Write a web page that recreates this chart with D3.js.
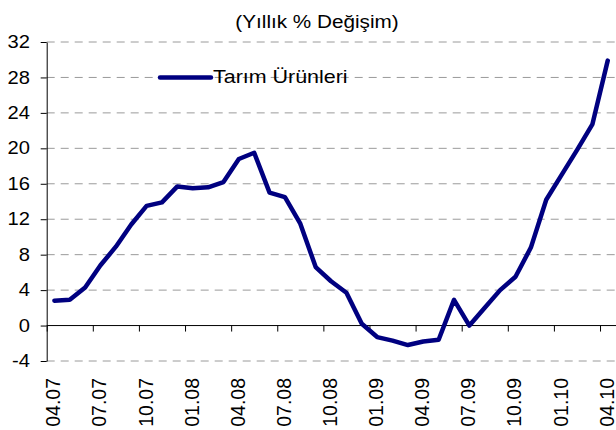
<!DOCTYPE html>
<html><head><meta charset="utf-8">
<script src="https://cdn.jsdelivr.net/npm/d3@7"></script>
<style>
body{margin:0;background:#fff;}
svg{display:block;font-family:"Liberation Sans",Arial,sans-serif;}
</style></head>
<body><svg id="c" width="616" height="430"></svg>
<script>
const months = ["04.07","05.07","06.07","07.07","08.07","09.07","10.07","11.07","12.07",
"01.08","02.08","03.08","04.08","05.08","06.08","07.08","08.08","09.08","10.08","11.08","12.08",
"01.09","02.09","03.09","04.09","05.09","06.09","07.09","08.09","09.09","10.09","11.09","12.09",
"01.10","02.10","03.10","04.10"];
const values = [2.8,2.9,4.3,6.8,8.9,11.4,13.5,13.9,15.7,
15.5,15.6,16.2,18.8,19.5,15.0,14.5,11.5,6.6,5.0,3.7,0.2,
-1.3,-1.7,-2.2,-1.8,-1.6,2.9,0.0,2.0,4.0,5.5,8.8,14.2,
17.0,19.8,22.7,29.9];
const yTicks = [-4,0,4,8,12,16,20,24,28,32];
const xLabels = ["04.07","07.07","10.07","01.08","04.08","07.08","10.08","01.09","04.09","07.09","10.09","01.10","04.10"];
const seriesName = "Tarım Ürünleri";
const title = "(Yıllık % Değişim)";

const svg = d3.select("#c");
const L = 46.7, R = 615.4, T = 42, B = 361;
const x = d3.scaleBand().domain(months).range([L, R]);
const xi = d3.scaleLinear().domain([0, months.length]).range([L, R]);
const y = d3.scaleLinear().domain([-4, 32]).range([B, T]);

// gridlines
svg.append("g").selectAll("line").data(yTicks.filter(t => t !== 0)).join("line")
  .attr("x1", L).attr("x2", 616).attr("y1", d => y(d)).attr("y2", d => y(d))
  .attr("stroke", "#9a9a9a").attr("stroke-width", 1).attr("stroke-dasharray", "8,6");

// y axis
const ya = svg.append("g").attr("transform", `translate(${L},0)`)
  .call(d3.axisLeft(y).tickValues(yTicks).tickSize(6).tickSizeOuter(0).tickFormat(""));
ya.select(".domain").attr("stroke", "#000");
ya.selectAll(".tick line").attr("stroke", "#000");

svg.append("g").selectAll("text").data(yTicks).join("text")
  .attr("transform", d => `translate(30,${y(d)}) scale(1.12,1)`)
  .attr("text-anchor", "end").attr("dominant-baseline", "central")
  .attr("font-size", 18).attr("fill", "#000").text(d => d);

// x axis
const xa = svg.append("g").attr("transform", `translate(0,${y(0)})`)
  .call(d3.axisBottom(xi).tickValues(d3.range(0, months.length, 3)).tickSize(6).tickSizeOuter(0).tickFormat(""));
xa.select(".domain").attr("stroke", "#000").attr("d", `M${L},0H616`);
xa.selectAll(".tick line").attr("stroke", "#000");

svg.append("g").selectAll("text").data(xLabels).join("text")
  .attr("transform", d => `translate(${x(d) + x.bandwidth() / 2 - 1},378) rotate(-90)`)
  .attr("text-anchor", "end").attr("dominant-baseline", "central")
  .attr("font-size", 19.5).attr("fill", "#000").text(d => d);

// line
const line = d3.line().x((d, i) => x(months[i]) + x.bandwidth() / 2).y(d => y(d));
svg.append("path").datum(values).attr("d", line)
  .attr("fill", "none").attr("stroke", "#000080").attr("stroke-width", 4.5)
  .attr("stroke-linejoin", "round").attr("stroke-linecap", "round");

// legend
svg.append("line").attr("x1", 160).attr("x2", 211).attr("y1", 77.5).attr("y2", 77.5)
  .attr("stroke", "#000080").attr("stroke-width", 4.5).attr("stroke-linecap", "round");
svg.append("text").attr("transform", "translate(213,77) scale(1.16,1)")
  .attr("dominant-baseline", "central").attr("font-size", 18.5).attr("fill", "#000").text(seriesName);

// title
svg.append("text").attr("transform", "translate(317,28) scale(1.12,1)")
  .attr("text-anchor", "middle").attr("font-size", 18.5).attr("fill", "#000").text(title);
</script></body></html>
